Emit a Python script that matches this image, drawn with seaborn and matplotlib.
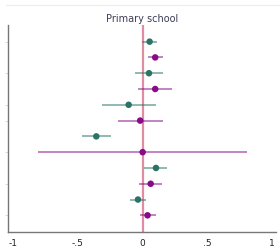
import matplotlib
matplotlib.use("Agg")
import matplotlib.pyplot as plt
from matplotlib.lines import Line2D
import seaborn as sns
import pandas as pd

# estimates and confidence intervals, top row first
estimate = [0.054, 0.097, 0.049, 0.097, -0.108, -0.019, -0.358, 0.000, 0.103, 0.062, -0.036, 0.038]
ci_low = [-0.005, 0.039, -0.059, -0.034, -0.316, -0.188, -0.470, -0.805, 0.010, -0.026, -0.098, -0.021]
ci_high = [0.113, 0.159, 0.154, 0.228, 0.103, 0.154, -0.243, 0.807, 0.192, 0.151, 0.026, 0.100]
group = ["a", "b"] * 6
x_ticks = [-1, -0.5, 0, 0.5, 1]
x_ticklabels = ["-1", "-.5", "0", ".5", "1"]
y_ticks = [0, 2, 4, 5, 7, 9, 11]

df = pd.DataFrame({"row": range(len(estimate)), "est": estimate,
                   "lo": ci_low, "hi": ci_high, "group": group})
palette = {"a": "#2b7367", "b": "#870a87"}

sns.set_style("white")
fig = plt.figure(figsize=(2.8, 2.49), dpi=100)
ax = fig.add_axes([0.0286, 0.068, 0.957, 0.832])

# reference line at zero
ax.axvline(0, color="#d9708b", lw=1.6, alpha=0.8, zorder=1)

# confidence intervals
for g, sub in df.groupby("group"):
    ax.hlines(sub["row"], sub["lo"], sub["hi"], color=palette[g], lw=1.3, alpha=0.55, zorder=2)

sns.scatterplot(data=df, x="est", y="row", hue="group", palette=palette,
                s=22, edgecolor="none", legend=False, ax=ax, zorder=3)

ax.set_xlim(-1.04, 1.03)
ax.set_ylim(11 + 1.06, -1.06)
ax.set_xticks(x_ticks)
ax.set_xticklabels(x_ticklabels, fontsize=6.5, color="#222222")
ax.set_yticks(y_ticks)
ax.set_yticklabels([])
ax.tick_params(axis="x", length=3, width=0.6, color="#555555", pad=2)
ax.tick_params(axis="y", length=2, width=0.5, color="#cccccc", left=True)
ax.set_xlabel("")
ax.set_ylabel("")
ax.set_title("Primary school", fontsize=7, color="#3d3d55", pad=2)

for side in ["top", "right"]:
    ax.spines[side].set_visible(False)
for side in ["left", "bottom"]:
    ax.spines[side].set_color("#777777")
    ax.spines[side].set_linewidth(1.0)

# thin separator line at the top of the figure
fig.add_artist(Line2D([0.02, 1.0], [0.98, 0.98], color="#ececec", lw=0.8))

fig.savefig("out.png", dpi=100)
